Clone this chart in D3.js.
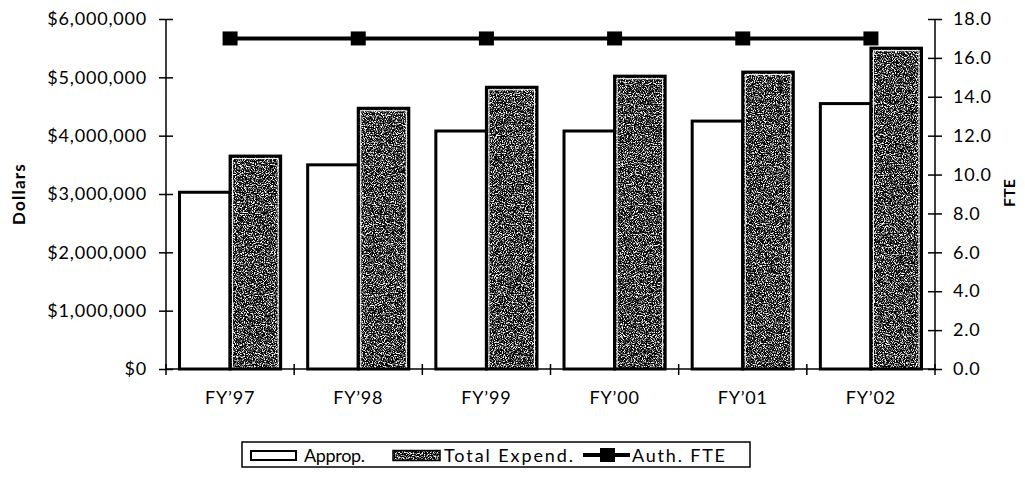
<!DOCTYPE html>
<html>
<head>
<meta charset="utf-8">
<script src="https://cdn.jsdelivr.net/npm/d3@7"></script>
<style>
  html, body { margin: 0; padding: 0; background: #fff; }
  svg { display: block; }
  text { font-family: Lato, "DejaVu Sans", sans-serif; fill: #000; }
</style>
</head>
<body>
<svg id="chart" width="1025" height="477"></svg>
<script>
// Fiscal years and the three series
const years = ["FY\u201997", "FY\u201998", "FY\u201999", "FY\u201900", "FY\u201901", "FY\u201902"];
const approp = [3030000, 3500000, 4080000, 4080000, 4250000, 4550000];
const totalExpend = [3650000, 4470000, 4830000, 5020000, 5090000, 5500000];
const authFTE = [17, 17, 17, 17, 17, 17];

const dollarTicks = [0, 1000000, 2000000, 3000000, 4000000, 5000000, 6000000];
const fteTicks = [0, 2, 4, 6, 8, 10, 12, 14, 16, 18];
const legendLabels = ["Approp.", "Total Expend.", "Auth. FTE"];

const svg = d3.select("#chart");
const plotLeft = 166, plotRight = 935, plotTop = 19, plotBottom = 369;

// Grainy fill for the expenditure bars
const defs = svg.append("defs");
const grain = defs.append("filter").attr("id", "grain")
  .attr("x", 0).attr("y", 0).attr("width", 1).attr("height", 1)
  .attr("color-interpolation-filters", "sRGB");
grain.append("feTurbulence").attr("type", "fractalNoise")
  .attr("baseFrequency", 0.9).attr("numOctaves", 2).attr("seed", 7).attr("result", "n");
grain.append("feColorMatrix").attr("in", "n").attr("type", "matrix")
  .attr("values", "4.5 0 0 0 -2.05  4.5 0 0 0 -2.05  4.5 0 0 0 -2.05  0 0 0 0 1");

const x0 = d3.scaleBand().domain(years).range([plotLeft, plotRight])
  .paddingInner(0.1875).paddingOuter(0.09375);
const x1 = d3.scaleBand().domain(["approp", "expend"]).range([0, x0.bandwidth()]);
const yL = d3.scaleLinear().domain([0, 6000000]).range([plotBottom, plotTop]);
const yR = d3.scaleLinear().domain([0, 18]).range([plotBottom, plotTop]);

// Appropriation bars
svg.append("g").selectAll("rect").data(years).join("rect")
  .attr("x", (d) => x0(d) + x1("approp") + 1.5)
  .attr("y", (d, i) => yL(approp[i]))
  .attr("width", x1.bandwidth() - 1.5)
  .attr("height", (d, i) => plotBottom - yL(approp[i]))
  .attr("fill", "#fff").attr("stroke", "#000").attr("stroke-width", 3);

// Total expenditure bars
const eg = svg.append("g");
years.forEach((d, i) => {
  const bx = x0(d) + x1("expend"), bw = x1.bandwidth() - 1.5;
  const by = yL(totalExpend[i]), bh = plotBottom - by;
  eg.append("rect").attr("x", bx).attr("y", by).attr("width", bw).attr("height", bh)
    .attr("fill", "#555").attr("filter", "url(#grain)");
  eg.append("rect").attr("x", bx + 2.5).attr("y", by + 2.5).attr("width", bw - 5).attr("height", bh - 2.5)
    .attr("fill", "none").attr("stroke", "#fff").attr("stroke-width", 1);
  eg.append("rect").attr("x", bx).attr("y", by).attr("width", bw).attr("height", bh)
    .attr("fill", "none").attr("stroke", "#000").attr("stroke-width", 3);
});

// Left axis (dollars)
const axL = svg.append("g").attr("transform", `translate(${plotLeft},0)`)
  .call(d3.axisLeft(yL).tickValues(dollarTicks).tickFormat(d3.format("$,")).tickSize(7).tickPadding(12));
axL.selectAll(".tick line").attr("x1", 7).attr("x2", -7);
axL.select(".domain").attr("d", `M0,${plotTop}V${plotBottom}`);

// Right axis (FTE)
const axR = svg.append("g").attr("transform", `translate(${plotRight},0)`)
  .call(d3.axisRight(yR).tickValues(fteTicks).tickFormat(d3.format(".1f")).tickSize(7).tickPadding(11));
axR.selectAll(".tick line").attr("x1", -7).attr("x2", 7);
axR.select(".domain").attr("d", `M0,${plotTop}V${plotBottom}`);

// Category axis: labels at band centers, ticks on band boundaries
const axB = svg.append("g").attr("transform", `translate(0,${plotBottom})`)
  .call(d3.axisBottom(x0).tickSize(0).tickPadding(22));
axB.select(".domain").attr("d", `M${plotLeft},0H${plotRight}`);
const step = x0.step();
axB.selectAll("line.bound").data(d3.range(years.length + 1)).join("line")
  .attr("class", "bound")
  .attr("x1", (i) => plotLeft + i * step).attr("x2", (i) => plotLeft + i * step)
  .attr("y1", -5).attr("y2", 6);

[axL, axR, axB].forEach((a) => {
  a.selectAll("path, line").attr("stroke", "#000").attr("stroke-width", 1.5);
  a.selectAll("text").attr("font-size", 18).attr("letter-spacing", 0.8)
    .attr("font-family", "Lato, 'DejaVu Sans', sans-serif").attr("fill", "#000");
});

// Authorized FTE line with square markers
const cx = (d) => x0(d) + x0.bandwidth() / 2;
svg.append("path").datum(years)
  .attr("d", d3.line().x(cx).y((d, i) => yR(authFTE[i])))
  .attr("fill", "none").attr("stroke", "#000").attr("stroke-width", 4);
svg.append("g").selectAll("rect").data(years).join("rect")
  .attr("x", (d) => cx(d) - 7.5).attr("y", (d, i) => yR(authFTE[i]) - 7)
  .attr("width", 15).attr("height", 14).attr("fill", "#000");

// Axis titles
svg.append("text").attr("transform", "translate(25,194) rotate(-90)")
  .attr("text-anchor", "middle").attr("font-weight", "bold").attr("font-size", 17)
  .attr("letter-spacing", 1.2).text("Dollars");
svg.append("text").attr("transform", "translate(1015,193) rotate(-90)")
  .attr("text-anchor", "middle").attr("font-weight", "bold").attr("font-size", 16).text("FTE");

// Legend
const lg = svg.append("g");
lg.append("rect").attr("x", 242).attr("y", 442).attr("width", 508).attr("height", 25)
  .attr("fill", "#fff").attr("stroke", "#000").attr("stroke-width", 1.5);
const ly = 455;
lg.append("rect").attr("x", 251).attr("y", ly - 4).attr("width", 45).attr("height", 9)
  .attr("fill", "#fff").attr("stroke", "#000").attr("stroke-width", 2);
lg.append("rect").attr("x", 393).attr("y", ly - 4.5).attr("width", 47).attr("height", 10)
  .attr("fill", "#555").attr("filter", "url(#grain)");
lg.append("rect").attr("x", 393).attr("y", ly - 4.5).attr("width", 47).attr("height", 10)
  .attr("fill", "none").attr("stroke", "#000").attr("stroke-width", 1.5);
lg.append("line").attr("x1", 583).attr("x2", 630).attr("y1", ly).attr("y2", ly)
  .attr("stroke", "#000").attr("stroke-width", 4);
lg.append("rect").attr("x", 600).attr("y", ly - 7).attr("width", 15).attr("height", 14).attr("fill", "#000");
const textX = [304, 444, 632], textW = [61, 129, 93];
lg.selectAll("text").data(legendLabels).join("text")
  .attr("x", (d, i) => textX[i]).attr("y", ly + 6.5).attr("font-size", 18)
  .attr("textLength", (d, i) => textW[i]).attr("lengthAdjust", "spacing")
  .text((d) => d);
</script>
</body>
</html>
